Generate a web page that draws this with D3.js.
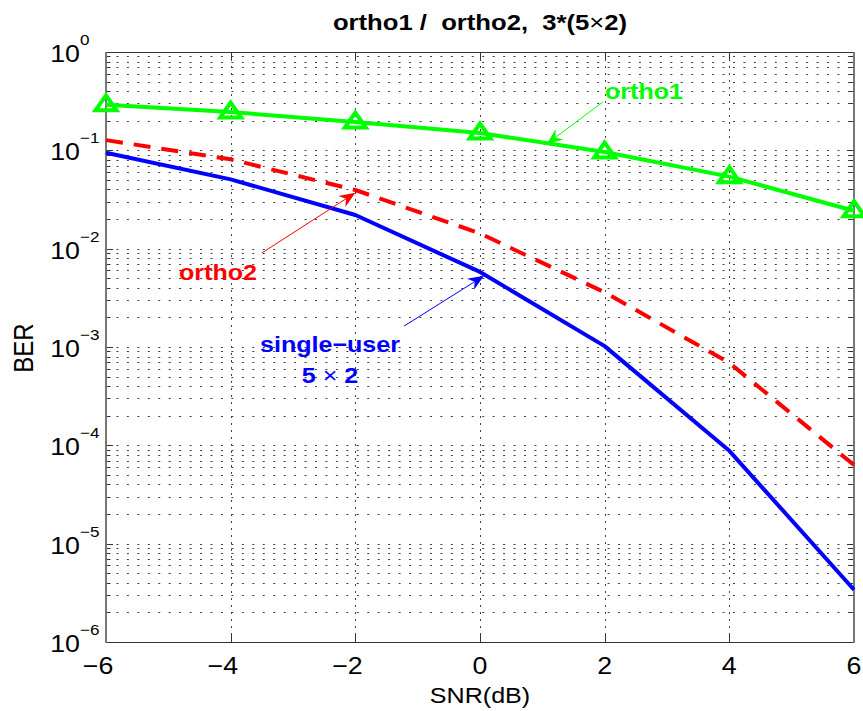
<!DOCTYPE html>
<html>
<head>
<meta charset="utf-8">
<script src="https://cdn.jsdelivr.net/npm/d3@7"></script>
<style>
  html, body { margin: 0; padding: 0; background: #fff; }
  svg { display: block; }
  text { font-family: "Liberation Sans", Arial, Helvetica, sans-serif; white-space: pre; }
</style>
</head>
<body>
<svg id="chart" width="863" height="711"></svg>
<script>
// SNR points (dB)
const snr = [-6, -4, -2, 0, 2, 4, 6];
// bit error rates per scheme
const berOrtho1 = [0.29, 0.245, 0.194, 0.150, 0.096, 0.054, 0.0243];
const berOrtho2 = [0.127, 0.081, 0.0395, 0.0143, 0.0036, 6.9e-4, 6.3e-5];
const berSingle = [0.0946, 0.0507, 0.022, 0.0058, 1.02e-3, 8.8e-5, 3.4e-6];
// axis ticks
const xTicks = [-6, -4, -2, 0, 2, 4, 6];
const yDecades = [0, -1, -2, -3, -4, -5, -6];

const W = 863, H = 711;
const plot = { left: 106, right: 854, top: 52, bottom: 642 };
const SX = 1.14; // horizontal text stretch

const svg = d3.select("#chart");
const x = d3.scaleLinear().domain([-6, 6]).range([plot.left, plot.right]);
const y = d3.scaleLog().domain([1e-6, 1]).range([plot.bottom, plot.top]);

function txt(g, px, py, s, size, opts = {}) {
  const t = g.append("text")
    .attr("transform", `translate(${px},${py}) scale(${SX},1)` + (opts.rotate ? ` rotate(${opts.rotate})` : ""))
    .attr("font-size", size)
    .attr("text-anchor", opts.anchor || "middle")
    .attr("font-weight", opts.weight || "normal")
    .attr("fill", opts.fill || "#000");
  if (s !== null) t.text(s);
  return t;
}

// minor log values inside the domain
const minors = [];
for (let e = -6; e < 0; e++) for (let m = 2; m <= 9; m++) minors.push(m * Math.pow(10, e));

// grid
const grid = svg.append("g").attr("stroke", "#111").attr("stroke-width", 1).attr("stroke-dasharray", "2,8.45").attr("opacity", 0.8);
grid.selectAll("line.h").data(minors.concat(yDecades.map(e => Math.pow(10, e)))).join("line")
  .attr("x1", plot.left).attr("x2", plot.right)
  .attr("y1", d => Math.round(y(d)) + 0.5).attr("y2", d => Math.round(y(d)) + 0.5);
grid.selectAll("line.v").data(xTicks.slice(1, -1)).join("line")
  .attr("stroke-dasharray", "2,5")
  .attr("x1", d => Math.round(x(d)) + 0.5).attr("x2", d => Math.round(x(d)) + 0.5)
  .attr("y1", plot.top).attr("y2", plot.bottom);

// ticks (inside, on all four sides)
const ticks = svg.append("g").attr("stroke", "#333").attr("stroke-width", 1);
const yTickVals = yDecades.map(e => ({ v: Math.pow(10, e), len: 7 })).concat(minors.map(v => ({ v, len: 4.5 })));
ticks.selectAll("line.yl").data(yTickVals).join("line")
  .attr("x1", plot.left).attr("x2", d => plot.left + d.len)
  .attr("y1", d => Math.round(y(d.v)) + 0.5).attr("y2", d => Math.round(y(d.v)) + 0.5);
ticks.selectAll("line.yr").data(yTickVals).join("line")
  .attr("x1", plot.right).attr("x2", d => plot.right - d.len)
  .attr("y1", d => Math.round(y(d.v)) + 0.5).attr("y2", d => Math.round(y(d.v)) + 0.5);
ticks.selectAll("line.xb").data(xTicks).join("line")
  .attr("x1", d => Math.round(x(d)) + 0.5).attr("x2", d => Math.round(x(d)) + 0.5)
  .attr("y1", plot.bottom).attr("y2", plot.bottom - 7);
ticks.selectAll("line.xt").data(xTicks).join("line")
  .attr("x1", d => Math.round(x(d)) + 0.5).attr("x2", d => Math.round(x(d)) + 0.5)
  .attr("y1", plot.top).attr("y2", plot.top + 7);

// frame
svg.append("line").attr("x1", plot.left).attr("x2", plot.right).attr("y1", plot.top + 0.5).attr("y2", plot.top + 0.5).attr("stroke", "#333");
svg.append("line").attr("x1", plot.left).attr("x2", plot.right).attr("y1", plot.bottom + 0.5).attr("y2", plot.bottom + 0.5).attr("stroke", "#333");
svg.append("line").attr("x1", plot.left).attr("x2", plot.left).attr("y1", plot.top).attr("y2", plot.bottom + 1).attr("stroke", "#777").attr("stroke-width", 2);
svg.append("line").attr("x1", plot.right).attr("x2", plot.right).attr("y1", plot.top).attr("y2", plot.bottom + 1).attr("stroke", "#777").attr("stroke-width", 2);

// tick labels
const lab = svg.append("g");
yDecades.forEach(e => {
  const py = y(Math.pow(10, e));
  txt(lab, plot.left - 26, py + 10, "10", 23.5, { anchor: "end" });
  txt(lab, plot.left - 26, py - 7, e === 0 ? "0" : "\u2212" + Math.abs(e), 15, { anchor: "start" });
});
xTicks.forEach(v => {
  const s = (v < 0 ? "\u2212" : "") + Math.abs(v);
  txt(lab, x(v) + 7.4, 674, s, 23.5, { anchor: "end" });
});

// axis labels and title
txt(svg, 480, 703, "SNR(dB)", 22);
txt(svg, 33, 348, "BER", 24, { rotate: -90 });
const title = txt(svg, 480, 30, null, 22.5, { weight: "bold" });
title.append("tspan").text("ortho1 /  ortho2,  3*(5");
title.append("tspan").attr("font-weight", "normal").text("\u00d7");
title.append("tspan").text("2)");

// curves
const line = d3.line().x((d, i) => x(snr[i])).y(d => y(d));
const curves = svg.append("g").attr("fill", "none").attr("stroke-width", 4).attr("stroke-linejoin", "round");
curves.append("path").datum(berOrtho2).attr("d", line).attr("stroke", "#ff0000").attr("stroke-dasharray", "17,11");
curves.append("path").datum(berSingle).attr("d", line).attr("stroke", "#0000ff");
curves.append("path").datum(berOrtho1).attr("d", line).attr("stroke", "#00ff00");

// triangle markers on ortho1
svg.append("g").selectAll("path").data(berOrtho1).join("path")
  .attr("transform", (d, i) => `translate(${x(snr[i])},${y(d)})`)
  .attr("d", "M0,-9.5 L10.5,5.5 L-10.5,5.5 Z")
  .attr("fill", "none").attr("stroke", "#00ff00").attr("stroke-width", 4).attr("stroke-linejoin", "miter");

// annotations with arrows
const notes = [
  { text: ["ortho1"], color: "#00ff00", tx: 644, ty: 99, tail: [1.97, 0.31], tip: [1.07, 0.116] },
  { text: ["ortho2"], color: "#ff0000", tx: 218, ty: 280, tail: [-3.5, 0.00904], tip: [-2.0, 0.037] },
  { text: ["single\u2212user", "5 \u00d7 2"], color: "#0000ff", tx: 330, ty: 352, tail: [-1.22, 0.00163], tip: [0.065, 0.0053] }
];
const ann = svg.append("g");
notes.forEach(n => {
  n.text.forEach((s, k) => {
    const t = txt(ann, n.tx, n.ty + k * 31, null, 22, { weight: "bold", fill: n.color });
    if (s.includes("\u00d7")) {
      const parts = s.split("\u00d7");
      t.append("tspan").text(parts[0]);
      t.append("tspan").attr("font-weight", "normal").text("\u00d7");
      t.append("tspan").text(parts[1]);
    } else t.text(s);
  });
  const x0 = x(n.tail[0]), y0 = y(n.tail[1]), x1 = x(n.tip[0]), y1 = y(n.tip[1]);
  const L = Math.hypot(x1 - x0, y1 - y0), ux = (x1 - x0) / L, uy = (y1 - y0) / L;
  const px = -uy, py = ux, hl = 16, hw = 6.5, nb = 11;
  ann.append("line").attr("x1", x0).attr("y1", y0).attr("x2", x1 - ux * nb).attr("y2", y1 - uy * nb)
    .attr("stroke", n.color).attr("stroke-width", 1);
  const pts = [
    [x1, y1],
    [x1 - ux * hl + px * hw, y1 - uy * hl + py * hw],
    [x1 - ux * nb, y1 - uy * nb],
    [x1 - ux * hl - px * hw, y1 - uy * hl - py * hw]
  ];
  ann.append("path").attr("d", "M" + pts.map(p => p.join(",")).join("L") + "Z").attr("fill", n.color);
});
</script>
</body>
</html>
